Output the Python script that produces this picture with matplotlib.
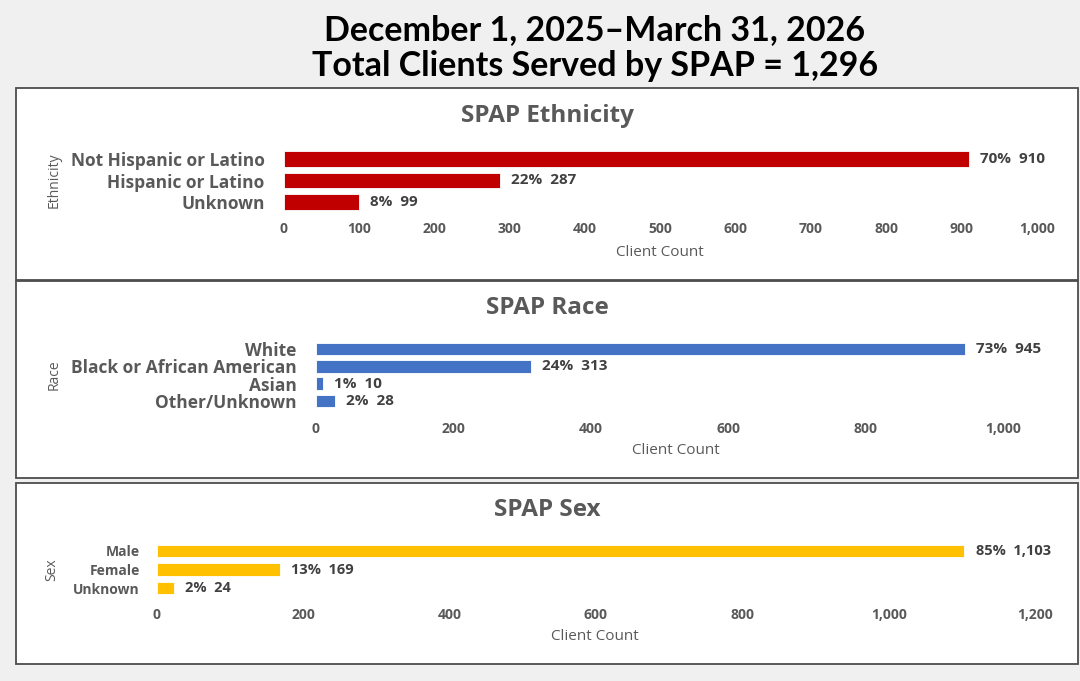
import matplotlib
matplotlib.use("Agg")
import matplotlib.pyplot as plt
from matplotlib.patches import Rectangle

# data
eth_cats = ["Not Hispanic or Latino", "Hispanic or Latino", "Unknown"]
eth_counts = [910, 287, 99]
eth_pct = [70, 22, 8]

race_cats = ["White", "Black or African American", "Asian", "Other/Unknown"]
race_counts = [945, 313, 10, 28]
race_pct = [73, 24, 1, 2]

sex_cats = ["Male", "Female", "Unknown"]
sex_counts = [1103, 169, 24]
sex_pct = [85, 13, 2]

title1 = "December 1, 2025\u2013March 31, 2026"
title2 = "Total Clients Served by SPAP = 1,296"

W, H = 1080, 681
GRAY = "#595959"
DARK = "#404040"
FONT = "Open Sans"

fig = plt.figure(figsize=(W / 100, H / 100), dpi=100)
fig.patch.set_facecolor("#f0f0f0")


def fx(x):
    return x / W


def fy(y):
    return 1 - y / H


# title lines
fig.text(fx(595), fy(30), title1, ha="center", va="center", fontsize=24.5,
         fontweight="bold", family="Lato", color="black")
fig.text(fx(595), fy(66), title2, ha="center", va="center", fontsize=24.5,
         fontweight="bold", family="Lato", color="black")

# panel boxes (left, top, right, bottom in px)
panels = [(16, 88, 1078, 280), (16, 281, 1078, 478), (16, 483, 1078, 664)]
for x0, y0, x1, y1 in panels:
    fig.add_artist(Rectangle((fx(x0), fy(y1)), (x1 - x0) / W, (y1 - y0) / H,
                             transform=fig.transFigure, facecolor="white",
                             edgecolor="#4d4d4d", lw=1.3, zorder=0))


def panel(cats, counts, pct, color, xmax, step, box, title, title_y, ylab,
          ylab_xy, xlab_xy, cat_size, bar_h, ypad, xpad, lab_size):
    x0, x1, ytop, ybot = box
    ax = fig.add_axes([fx(x0), fy(ybot), (x1 - x0) / W, (ybot - ytop) / H])
    ax.patch.set_alpha(0)
    ypos = list(range(len(cats)))
    ax.barh(ypos, counts, height=bar_h, color=color, edgecolor="white",
            lw=0.6)
    ax.set_ylim(len(cats) - 0.5, -0.5)
    ax.set_xlim(0, xmax)
    ax.set_yticks(ypos)
    ax.set_yticklabels(cats, fontsize=cat_size, fontweight="bold",
                       color=GRAY, family=FONT)
    ticks = list(range(0, xmax + 1, step))
    ax.set_xticks(ticks)
    ax.set_xticklabels([f"{t:,}" for t in ticks], fontsize=10,
                       fontweight="bold", color=GRAY, family=FONT)
    ax.tick_params(axis="y", length=0, pad=ypad)
    ax.tick_params(axis="x", length=0, pad=xpad)
    for s in ax.spines.values():
        s.set_visible(False)
    for y, c, p in zip(ypos, counts, pct):
        ax.annotate(f"{p}%  {c:,}", (c, y), xytext=(8, 0),
                    textcoords="offset points", va="center", ha="left",
                    fontsize=lab_size, fontweight="bold", color=DARK,
                    family=FONT)
    fig.text(fx(547), fy(title_y), title, ha="center", va="center",
             fontsize=17.5, fontweight="bold", color=GRAY, family=FONT)
    fig.text(fx(ylab_xy[0]), fy(ylab_xy[1]), ylab, rotation=90, ha="center",
             va="center", fontsize=10, color=GRAY, family=FONT)
    fig.text(fx(xlab_xy[0]), fy(xlab_xy[1]), "Client Count", ha="center",
             va="center", fontsize=11, color=GRAY, family=FONT)
    return ax


panel(eth_cats, eth_counts, eth_pct, "#C00000", 1000, 100,
      (284, 1037, 148.25, 212.75), "SPAP Ethnicity", 116, "Ethnicity",
      (54, 180), (660, 252), 12.5, 0.74, 14, 7, 11)

panel(race_cats, race_counts, race_pct, "#4472C4", 1000, 200,
      (316, 1003, 340.3, 409.7), "SPAP Race", 308, "Race",
      (54, 375), (676, 451), 12.5, 0.72, 14, 9, 11)

panel(sex_cats, sex_counts, sex_pct, "#FFC000", 1200, 200,
      (156.5, 1035.5, 541.75, 597.25), "SPAP Sex", 510, "Sex",
      (52, 570), (595, 636), 10, 0.7, 12, 8, 10.5)

fig.savefig("out.png", dpi=100, facecolor=fig.get_facecolor())
